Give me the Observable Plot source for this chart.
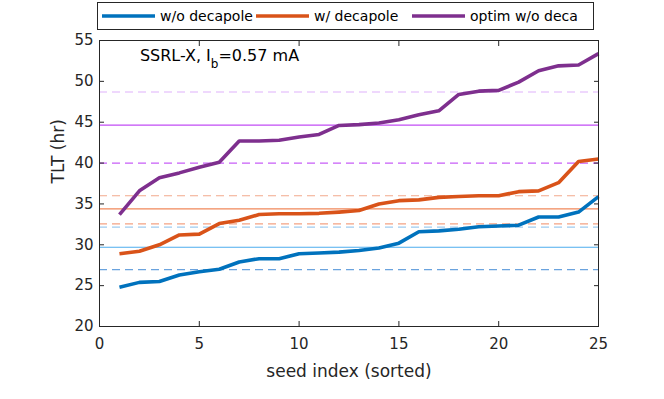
<!DOCTYPE html>
<html><head><meta charset="utf-8">
<script src="https://cdn.jsdelivr.net/npm/d3@7"></script>
<script src="https://cdn.jsdelivr.net/npm/@observablehq/plot@0.6"></script>
<style>body{margin:0;background:#fff} #chart{position:relative;width:664px;height:399px}</style>
</head><body><div id="chart"></div>
<script>
const seedIndex = [1,2,3,4,5,6,7,8,9,10,11,12,13,14,15,16,17,18,19,20,21,22,23,24,25];
const seriesNames = ["w/o decapole", "w/ decapole", "optim w/o deca"];
const woDecapole = [24.8,25.4,25.5,26.3,26.7,27.0,27.9,28.3,28.3,28.9,29.0,29.1,29.3,29.6,30.2,31.6,31.7,31.9,32.2,32.3,32.4,33.4,33.4,34.0,35.9];
const wDecapole = [28.9,29.2,30.0,31.2,31.3,32.6,33.0,33.7,33.8,33.8,33.85,34.0,34.2,35.0,35.4,35.5,35.8,35.9,36.0,36.0,36.5,36.6,37.6,40.2,40.5];
const optimWoDeca = [33.7,36.6,38.2,38.8,39.5,40.1,42.7,42.7,42.8,43.2,43.5,44.6,44.7,44.9,45.3,45.9,46.4,48.4,48.8,48.9,49.9,51.3,51.9,52.0,53.4];
const meanLines = [29.7, 34.4, 44.65];
const lowLines = [26.95, 32.55, 40.0];
const highLines = [32.15, 36.0, 48.7];
const xTicks = [0,5,10,15,20,25];
const yTicks = [20,25,30,35,40,45,50,55];
const seriesColors = ["#0072BD", "#D95319", "#7E2F8E"];
const meanColors = ["#4dadee", "#f0875a", "#c24cf5"];
const lowColors = ["#6aa3de", "#f3a283", "#c85ef8"];
const highColors = ["#9fcbef", "#f2a98c", "#dfb2fb"];
const annotation = {x: 2.05, y: 52.4};

const series = [woDecapole, wDecapole, optimWoDeca];
const font = "DejaVu Sans, sans-serif";
const axisColor = "#262626";

const refMarks = [];
[0,1,2].forEach(k => {
  refMarks.push(Plot.ruleY([highLines[k]], {stroke: highColors[k], strokeWidth: 1.2, strokeDasharray: "8,5"}));
  refMarks.push(Plot.ruleY([lowLines[k]], {stroke: lowColors[k], strokeWidth: 1.2, strokeDasharray: "8,5"}));
  refMarks.push(Plot.ruleY([meanLines[k]], {stroke: meanColors[k], strokeWidth: 1.2}));
});
const lineMarks = series.map((vals, k) => Plot.line(vals.map((v, i) => ({seed: seedIndex[i], tlt: v})), {
  x: "seed", y: "tlt", stroke: seriesColors[k], strokeWidth: 3.6, strokeLinejoin: "round", strokeLinecap: "butt"
}));

const chart = Plot.plot({
  width: 664, height: 399,
  marginLeft: 99, marginRight: 66, marginTop: 40, marginBottom: 73,
  style: {fontFamily: font, fontSize: "15px", color: axisColor, background: "#fff"},
  x: {domain: [0, 25]},
  y: {domain: [20, 55]},
  marks: [
    ...refMarks,
    ...lineMarks,
    Plot.frame({stroke: axisColor, strokeWidth: 1}),
    Plot.axisX({ticks: xTicks, tickSize: 0, tickPadding: 12, label: null, fontSize: 15}),
    Plot.axisX({ticks: xTicks, anchor: "bottom", tickSize: -5, tickFormat: () => "", label: null}),
    Plot.axisX({ticks: xTicks, anchor: "top", tickSize: -5, tickFormat: () => "", label: null}),
    Plot.axisY({ticks: yTicks, tickSize: 0, tickPadding: 6, label: null, fontSize: 15}),
    Plot.axisY({ticks: yTicks, anchor: "left", tickSize: -5, tickFormat: () => "", label: null}),
    Plot.axisY({ticks: yTicks, anchor: "right", tickSize: -5, tickFormat: () => "", label: null}),
    Plot.text(["TLT (hr)"], {frameAnchor: "left", rotate: -90, dx: -41, fontSize: 17, fill: axisColor}),
    Plot.text(["seed index (sorted)"], {frameAnchor: "bottom", lineAnchor: "middle", dy: 45, fontSize: 17, fill: axisColor})
  ]
});
document.getElementById("chart").appendChild(chart);

const svg = d3.select(chart);
const xs = chart.scale("x"), ys = chart.scale("y");

// annotation
const ann = svg.append("text")
  .attr("x", xs.apply(annotation.x)).attr("y", ys.apply(annotation.y))
  .attr("text-anchor", "start")
  .attr("font-family", font).attr("font-size", 16).attr("fill", "#000");
ann.append("tspan").text("SSRL-X, I");
ann.append("tspan").attr("dy", 7).attr("font-size", 12).text("b");
ann.append("tspan").attr("dy", -7).attr("font-size", 16).text("=0.57 mA");

// legend
const legend = svg.append("g").attr("text-anchor", "start");
legend.append("rect").attr("x", 97.5).attr("y", 2.5).attr("width", 496).attr("height", 27)
  .attr("fill", "#fff").attr("stroke", axisColor).attr("stroke-width", 1);
const legendX = [102, 256, 412];
seriesNames.forEach((name, k) => {
  legend.append("line").attr("x1", legendX[k]).attr("x2", legendX[k] + 53)
    .attr("y1", 16).attr("y2", 16).attr("stroke", seriesColors[k]).attr("stroke-width", 3.6);
  legend.append("text").attr("x", legendX[k] + 58).attr("y", 16).attr("dy", "0.35em")
    .attr("text-anchor", "start")
    .attr("font-family", font).attr("font-size", 14).attr("fill", "#000").text(name);
});
</script>
</body></html>
